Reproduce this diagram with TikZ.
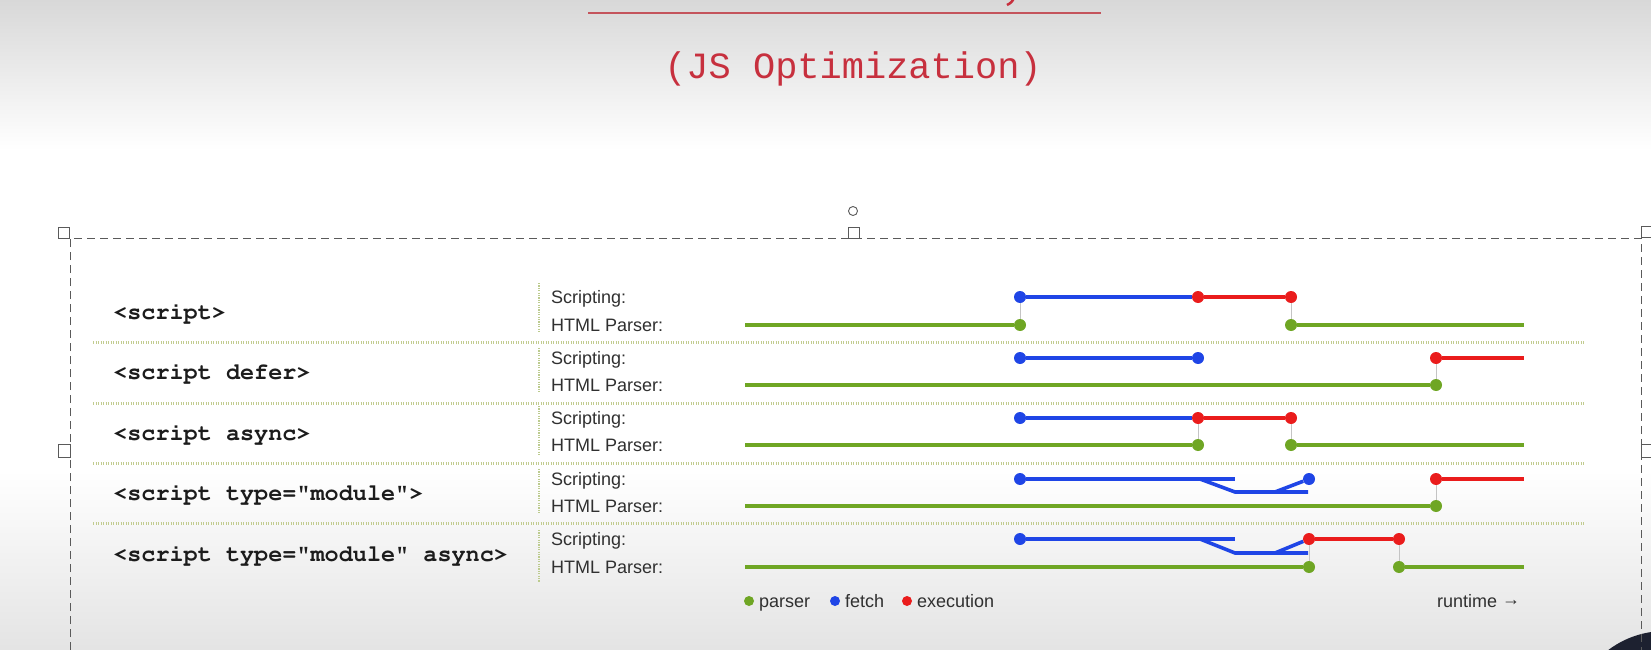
\documentclass[tikz,border=0pt]{standalone}
\usepackage[T1]{fontenc}
\usepackage{fontspec}
\setmainfont{Liberation Sans}
\newfontfamily\titlefont{Liberation Mono}
\usepackage{xcolor}
\usetikzlibrary{positioning}
\definecolor{Parse}{HTML}{6FA624}
\definecolor{Fetch}{HTML}{1F45E6}
\definecolor{Exec}{HTML}{EA1C1C}
\definecolor{Link}{HTML}{C4C4C4}
\definecolor{Sep}{HTML}{C2CC90}
\definecolor{VSep}{HTML}{BCCB8E}
\definecolor{TagInk}{HTML}{1C1C1C}
\definecolor{LaneInk}{HTML}{303030}
\definecolor{TitleRed}{HTML}{C7303E}
\definecolor{Rule}{HTML}{C4545C}
\definecolor{Frame}{HTML}{5A5A5A}
\definecolor{Shade}{HTML}{D8D8D8}
\definecolor{Cam}{HTML}{1D2130}
\newcommand\tagfont{\fontencoding{T1}\fontfamily{pcr}\fontseries{b}\fontsize{23.5}{26}\selectfont}
\newcommand\lanefont{\fontsize{18}{20}\selectfont}
\tikzset{
  tag/.style={anchor=base west,inner sep=0pt,text=TagInk,font=\tagfont},
  lane/.style={anchor=base west,inner sep=0pt,text=LaneInk,font=\lanefont},
  pdot/.style={circle,inner sep=0pt,minimum size=12pt,fill=#1},
  parse/.style={draw=Parse,line width=3.6pt},
  fetch/.style={draw=Fetch,line width=3.6pt},
  exec/.style={draw=Exec,line width=3.6pt},
  link/.style={draw=Link,line width=0.9pt},
  sep/.style={draw=Sep,line width=3pt,dash pattern=on 1.3pt off 1.2pt},
  vsep/.style={draw=VSep,line width=1.4pt,dash pattern=on 1.2pt off 1.2pt},
  frame/.style={draw=Frame,line width=0.9pt,dash pattern=on 8pt off 5pt},
  handle/.style={draw=Frame,fill=white,line width=0.9pt}
}

\begin{document}
\begin{tikzpicture}[x=1pt,y=-1pt]
  \useasboundingbox (0,0) rectangle (1651,650);
  % backdrop of the slide
  \fill[white] (0,0) rectangle (1651,650);
  \shade[top color=Shade,bottom color=white] (0,0) rectangle (1651,150);
  \shade[top color=white,bottom color=Shade!70] (0,470) rectangle (1651,650);
  \begin{scope}
    \clip (0,0) rectangle (1651,650);
    \fill[Cam] (1665,725) circle (94);
    \draw[TitleRed,line width=2.5pt] (1014,-2) to[bend left=20] (1007,5);
  \end{scope}
  \draw[Rule,line width=2pt] (588,13) -- (1101,13);
  \node[font=\titlefont\fontsize{37}{40}\selectfont,text=TitleRed] (title) at (853,69) {(JS Optimization)};

  % selection frame
  \draw[frame] (70,650) -- (70,238) -- (1641,238) -- (1641,650);
  \draw[handle] (58,227) rectangle (69,238);
  \draw[handle] (848,227) rectangle (859,238);
  \draw[handle] (1641,226) rectangle (1652,237);
  \draw[handle] (58,444) rectangle (70,457);
  \draw[handle] (1641,444) rectangle (1652,457);
  \draw[Frame,line width=0.9pt] (853,211) circle (4.5);

  % row separators
  \draw[sep] (93,342) -- (1585,342);
  \draw[sep] (93,403) -- (1585,403);
  \draw[sep] (93,463) -- (1585,463);
  \draw[sep] (93,523) -- (1585,523);
  \draw[vsep] (539,283) -- (539,333);
  \draw[vsep] (539,348) -- (539,393);
  \draw[vsep] (539,406) -- (539,455);
  \draw[vsep] (539,469) -- (539,514);
  \draw[vsep] (539,530) -- (539,582);

  % <script>
  \node[tag] (t1) at (113,319) {<script>};
  \node[lane] (s1) at (551,303) {Scripting:};
  \node[lane] (h1) at (551,331) {HTML Parser:};
  \coordinate (p1s) at (745,325);
  \coordinate (p1e) at (1524,325);
  \node[pdot=Parse] (p1a) at (1020,325) {};
  \node[pdot=Parse] (p1b) at (1291,325) {};
  \node[pdot=Fetch] (f1) at (1020,297) {};
  \node[pdot=Exec] (x1a) at (1198,297) {};
  \node[pdot=Exec] (x1b) at (1291,297) {};
  \draw[link] (f1) -- (p1a);
  \draw[link] (x1b) -- (p1b);
  \draw[parse] (p1s) -- (p1a);
  \draw[parse] (p1b) -- (p1e);
  \draw[fetch] (f1) -- (x1a);
  \draw[exec] (x1a) -- (x1b);

  % <script defer>
  \node[tag] (t2) at (113,379) {<script defer>};
  \node[lane] (s2) at (551,364) {Scripting:};
  \node[lane] (h2) at (551,391) {HTML Parser:};
  \coordinate (p2s) at (745,385);
  \coordinate (x2e) at (1524,358);
  \node[pdot=Parse] (p2a) at (1436,385) {};
  \node[pdot=Fetch] (f2a) at (1020,358) {};
  \node[pdot=Fetch] (f2b) at (1198,358) {};
  \node[pdot=Exec] (x2) at (1436,358) {};
  \draw[link] (x2) -- (p2a);
  \draw[parse] (p2s) -- (p2a);
  \draw[fetch] (f2a) -- (f2b);
  \draw[exec] (x2) -- (x2e);

  % <script async>
  \node[tag] (t3) at (113,440) {<script async>};
  \node[lane] (s3) at (551,424) {Scripting:};
  \node[lane] (h3) at (551,451) {HTML Parser:};
  \coordinate (p3s) at (745,445);
  \coordinate (p3e) at (1524,445);
  \node[pdot=Parse] (p3a) at (1198,445) {};
  \node[pdot=Parse] (p3b) at (1291,445) {};
  \node[pdot=Fetch] (f3) at (1020,418) {};
  \node[pdot=Exec] (x3a) at (1198,418) {};
  \node[pdot=Exec] (x3b) at (1291,418) {};
  \draw[link] (x3a) -- (p3a);
  \draw[link] (x3b) -- (p3b);
  \draw[parse] (p3s) -- (p3a);
  \draw[parse] (p3b) -- (p3e);
  \draw[fetch] (f3) -- (x3a);
  \draw[exec] (x3a) -- (x3b);

  % <script type="module">
  \node[tag] (t4) at (113,500) {<script type="module">};
  \node[lane] (s4) at (551,485) {Scripting:};
  \node[lane] (h4) at (551,512) {HTML Parser:};
  \coordinate (p4s) at (745,506);
  \coordinate (x4e) at (1524,479);
  \coordinate (m4a) at (1235,479);
  \coordinate (m4b) at (1200,479);
  \coordinate (m4c) at (1235,492);
  \coordinate (m4d) at (1308,492);
  \coordinate (m4e) at (1275,492);
  \node[pdot=Parse] (p4a) at (1436,506) {};
  \node[pdot=Fetch] (f4) at (1020,479) {};
  \node[pdot=Fetch] (f4e) at (1309,479) {};
  \node[pdot=Exec] (x4) at (1436,479) {};
  \draw[link] (x4) -- (p4a);
  \draw[parse] (p4s) -- (p4a);
  \draw[fetch] (f4) -- (m4a);
  \draw[fetch] (m4b) -- (m4c) -- (m4d);
  \draw[fetch] (m4e) -- (f4e);
  \draw[exec] (x4) -- (x4e);

  % <script type="module" async>
  \node[tag] (t5) at (113,561) {<script type="module" async>};
  \node[lane] (s5) at (551,545) {Scripting:};
  \node[lane] (h5) at (551,573) {HTML Parser:};
  \coordinate (p5s) at (745,567);
  \coordinate (p5e) at (1524,567);
  \coordinate (m5a) at (1235,539);
  \coordinate (m5b) at (1200,539);
  \coordinate (m5c) at (1235,553);
  \coordinate (m5d) at (1308,553);
  \coordinate (m5e) at (1275,553);
  \node[pdot=Parse] (p5a) at (1309,567) {};
  \node[pdot=Parse] (p5b) at (1399,567) {};
  \node[pdot=Fetch] (f5) at (1020,539) {};
  \node[pdot=Exec] (x5a) at (1309,539) {};
  \node[pdot=Exec] (x5b) at (1399,539) {};
  \draw[link] (x5a) -- (p5a);
  \draw[link] (x5b) -- (p5b);
  \draw[parse] (p5s) -- (p5a);
  \draw[parse] (p5b) -- (p5e);
  \draw[fetch] (f5) -- (m5a);
  \draw[fetch] (m5b) -- (m5c) -- (m5d);
  \draw[fetch] (m5e) -- (x5a);
  \draw[exec] (x5a) -- (x5b);

  % legend
  \node[pdot=Parse,minimum size=10pt] (lg1) at (749,601) {};
  \node[lane] (lt1) at (759,607) {parser};
  \node[pdot=Fetch,minimum size=10pt] (lg2) at (835,601) {};
  \node[lane] (lt2) at (845,607) {fetch};
  \node[pdot=Exec,minimum size=10pt] (lg3) at (907,601) {};
  \node[lane] (lt3) at (917,607) {execution};
  \node[lane] (rt) at (1437,607) {runtime \raisebox{2pt}{→}};
\end{tikzpicture}
\end{document}
